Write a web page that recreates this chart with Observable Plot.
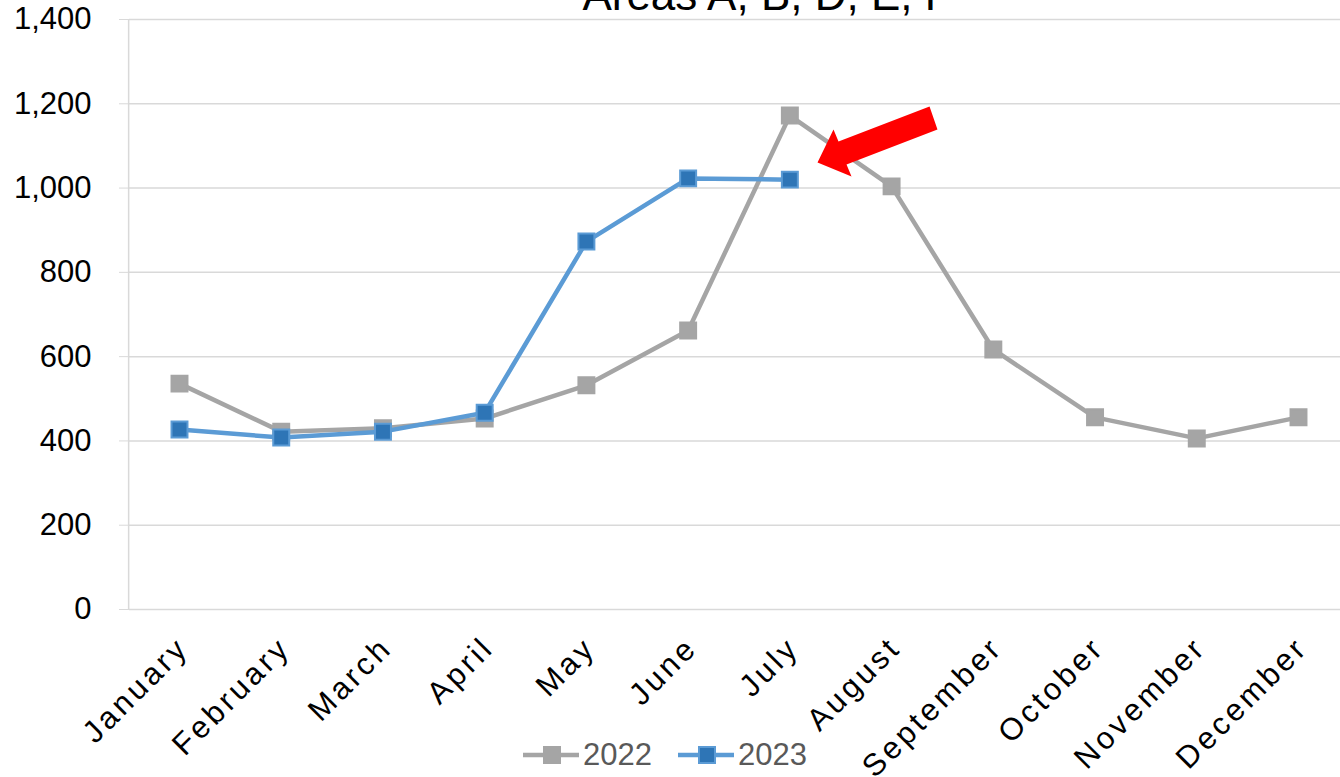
<!DOCTYPE html>
<html>
<head>
<meta charset="utf-8">
<script src="https://cdn.jsdelivr.net/npm/d3@7"></script>
<script src="https://cdn.jsdelivr.net/npm/@observablehq/plot@0.6"></script>
<style>
  html, body { margin: 0; padding: 0; background: #fff; }
  #wrap { position: relative; width: 1340px; height: 777px; overflow: hidden; font-family: "Liberation Sans", Arial, sans-serif; }
  #title { position: absolute; left: 467px; width: 600px; top: -27px; text-align: center; font-size: 44px; line-height: 44px; color: #000; white-space: nowrap; }
  #legend { position: absolute; left: 523px; top: 738px; height: 34px; display: flex; align-items: center; font-size: 31px; color: #595959; }
  #legend .item { display: flex; align-items: center; margin-right: 26px; }
  #legend svg { display: block; margin-right: 4px; }
</style>
</head>
<body>
<div id="wrap">
  <div id="chart"></div>
  <div id="title">Areas A, B, D, E, F</div>
  <div id="legend"></div>
</div>
<script>
const months = ["January","February","March","April","May","June","July","August","September","October","November","December"];
const values2022 = [536, 422, 430, 453, 532, 662, 1172, 1004, 617, 456, 406, 456];
const values2023 = [427, 408, 422, 467, 873, 1023, 1020];
const yTicks = [0, 200, 400, 600, 800, 1000, 1200, 1400];
const seriesNames = ["2022", "2023"];
const lineColors = ["#A5A5A5", "#5B9BD5"];
const markerFills = ["#A5A5A5", "#2E75B6"];
// annotation arrow outline in data units (x = month index, y = value)
const arrowX = [6.272, 6.606, 6.557, 7.451, 7.373, 6.478, 6.429];
const arrowY = [1060.7, 1027.4, 1055.9, 1139.0, 1193.5, 1110.5, 1139.0];

const d2022 = values2022.map((v, i) => ({i, v}));
const d2023 = values2023.map((v, i) => ({i, v}));
const arrow = arrowX.map((x, k) => ({x, y: arrowY[k]}));
const monthIdx = months.map((m, i) => i);

const chart = Plot.plot({
  width: 1340,
  height: 777,
  marginLeft: 129,
  marginRight: 0,
  marginTop: 19,
  marginBottom: 168,
  x: {domain: [0, 11], range: [179, 1298], axis: null},
  y: {domain: [0, 1400]},
  style: {fontFamily: "Liberation Sans, Arial, sans-serif", background: "white", overflow: "visible"},
  marks: [
    Plot.ruleY(yTicks, {stroke: "#D9D9D9", strokeWidth: 1.5}),
    Plot.ruleX([-0.5], {y1: 0, y2: 1400, stroke: "#D9D9D9", strokeWidth: 1.5}),
    Plot.axisY({ticks: yTicks, tickSize: 10, tickPadding: 28, tickFormat: d3.format(","), stroke: "#D9D9D9", fill: "black", fontSize: 31, label: null}),
    Plot.text(monthIdx, {x: d => d, frameAnchor: "bottom", text: d => months[d], rotate: -45, textAnchor: "end", lineAnchor: "middle", dx: 4, dy: 33, fontSize: 31, fill: "black"}),
    Plot.line(d2022, {x: "i", y: "v", stroke: lineColors[0], strokeWidth: 4.5}),
    Plot.dot(d2022, {x: "i", y: "v", symbol: "square", r: 9, fill: markerFills[0], stroke: lineColors[0], strokeWidth: 2}),
    Plot.line(d2023, {x: "i", y: "v", stroke: lineColors[1], strokeWidth: 4.5}),
    Plot.dot(d2023, {x: "i", y: "v", symbol: "square", r: 9, fill: markerFills[1], stroke: lineColors[1], strokeWidth: 2}),
    Plot.line(arrow, {x: "x", y: "y", fill: "#FF0000", stroke: "none", curve: "linear-closed"})
  ]
});
// letter-spaced month labels, as in the reference
d3.select(chart).selectAll("text").filter(function() { return months.includes(this.textContent); })
  .style("letter-spacing", "3.5px");
document.getElementById("chart").appendChild(chart);

const legend = document.getElementById("legend");
seriesNames.forEach((name, k) => {
  const item = document.createElement("div");
  item.className = "item";
  item.innerHTML = `<svg width="56" height="20"><line x1="0" y1="10" x2="56" y2="10" stroke="${lineColors[k]}" stroke-width="4.5"/><rect x="21" y="2" width="16" height="16" fill="${markerFills[k]}" stroke="${lineColors[k]}" stroke-width="2"/></svg><span>${name}</span>`;
  legend.appendChild(item);
});
</script>
</body>
</html>
